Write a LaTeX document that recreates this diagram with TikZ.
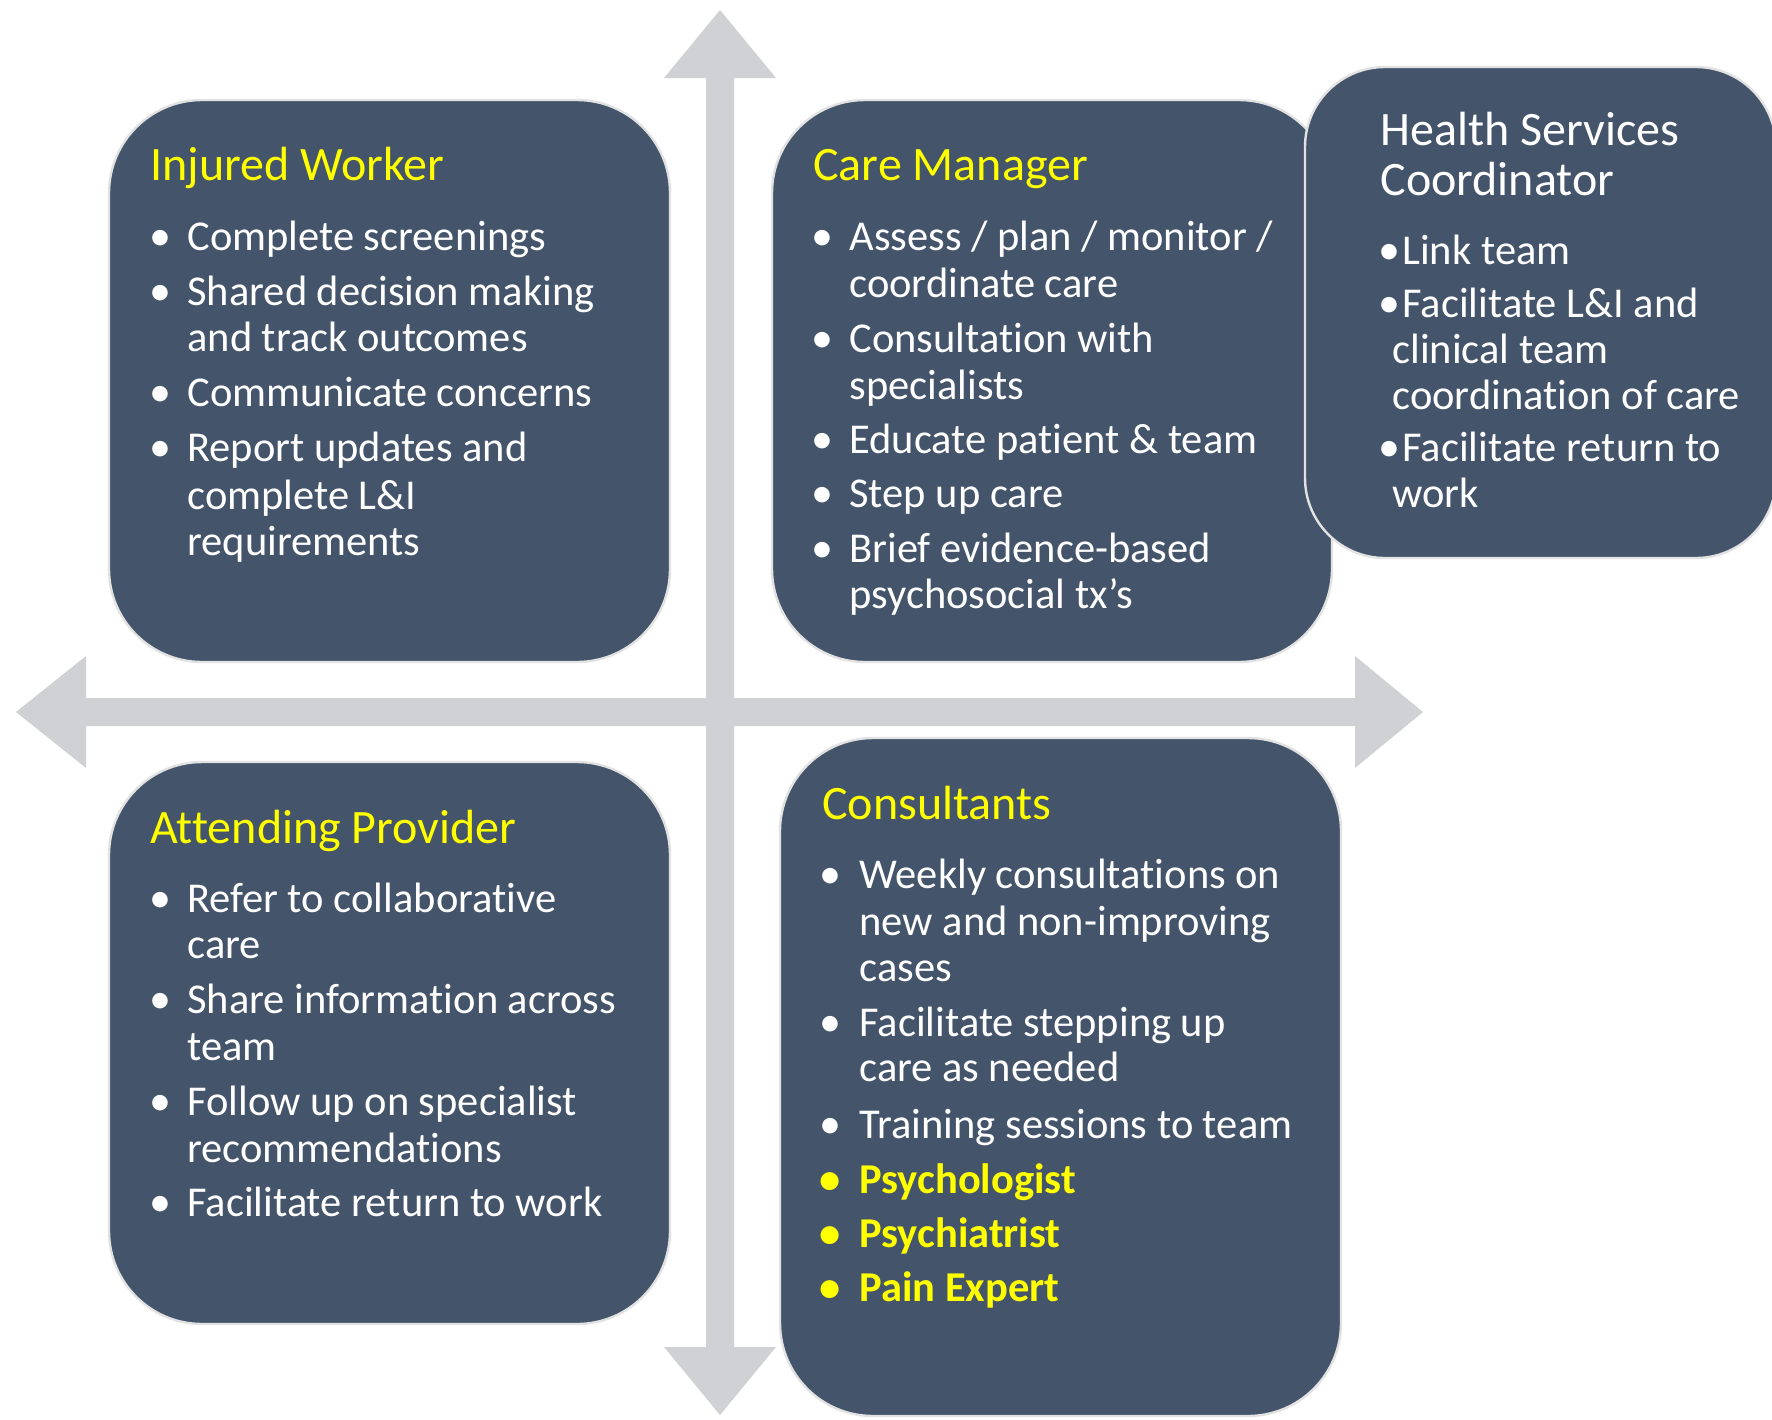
\documentclass[tikz,border=0pt]{standalone}
\usepackage{fontspec}
\setmainfont{Carlito}[Ligatures=NoCommon]
\usepackage{color}
\usepackage{tikz}
\definecolor{boxblue}{RGB}{68,84,106}
\definecolor{arrowgray}{RGB}{208,209,213}
\definecolor{rimgray}{RGB}{226,226,226}
\definecolor{titleyellow}{RGB}{255,255,0}

\begin{document}
\begin{tikzpicture}[x=0.5pt,y=-0.5pt,
	card/.style={fill=boxblue,draw=rimgray,line width=1.2pt,rounded corners=46.5pt},
	head/.style={anchor=base west,inner sep=0pt,text=titleyellow,font=\fontsize{24}{29}\selectfont},
	txt/.style={anchor=base west,inner sep=0pt,text=white,font=\fontsize{21.25}{25}\selectfont},
	dot/.style={anchor=base,inner sep=0pt,text=white,font=\fontsize{22}{25}\selectfont},
	hot/.style={text=titleyellow,font=\fontsize{21.25}{25}\selectfont\bfseries}]
		\clip (0,0) rectangle (1772,1419);
		\fill[arrowgray] (720,10) -- (776,78) -- (734,78) -- (734,698) -- (1355,698) -- (1355,656) -- (1423,712) -- (1355,768) -- (1355,726) -- (734,726) -- (734,1347) -- (776,1347) -- (720,1415) -- (664,1347) -- (706,1347) -- (706,726) -- (86,726) -- (86,768) -- (16,712) -- (86,656) -- (86,698) -- (706,698) -- (706,78) -- (664,78) -- cycle;
		\draw[card] (109,100) rectangle (670,662);
		\draw[card] (772,100) rectangle (1332,662);
		\draw[card,rounded corners=40pt] (1305,67) rectangle (1776,558);
		\draw[card] (109,762) rectangle (670,1324);
		\draw[card] (780,738) rectangle (1341,1416);
		\node [head] (iw) at (150,180) {Injured Worker};
		\node [dot] (iw-d1) at (160,250) {\textbullet};
		\node [dot] (iw-d2) at (160,305) {\textbullet};
		\node [dot] (iw-d3) at (160,406) {\textbullet};
		\node [dot] (iw-d4) at (160,461) {\textbullet};
		\node [txt] (iw-1) at (187,250) {Complete screenings};
		\node [txt] (iw-2) at (187,305) {Shared decision making};
		\node [txt] (iw-3) at (187,351) {and track outcomes};
		\node [txt] (iw-4) at (187,406) {Communicate concerns};
		\node [txt] (iw-5) at (187,461) {Report updates and};
		\node [txt] (iw-6) at (187,509) {complete L\&I};
		\node [txt] (iw-7) at (187,555) {requirements};
		\node [head] (cm) at (813,180) {Care Manager};
		\node [dot] (cm-d1) at (822,250) {\textbullet};
		\node [dot] (cm-d2) at (822,352) {\textbullet};
		\node [dot] (cm-d3) at (822,453) {\textbullet};
		\node [dot] (cm-d4) at (822,507) {\textbullet};
		\node [dot] (cm-d5) at (822,562) {\textbullet};
		\node [txt] (cm-1) at (849,250) {Assess / plan / monitor /};
		\node [txt] (cm-2) at (849,297) {coordinate care};
		\node [txt] (cm-3) at (849,352) {Consultation with};
		\node [txt] (cm-4) at (849,399) {specialists};
		\node [txt] (cm-5) at (849,453) {Educate patient \& team};
		\node [txt] (cm-6) at (849,507) {Step up care};
		\node [txt] (cm-7) at (849,562) {Brief evidence-based};
		\node [txt] (cm-8) at (849,608) {psychosocial tx’s};
		\node [head,text=white] (hs) at (1380,145) {Health Services};
		\node [head,text=white] (hs-b) at (1380,195) {Coordinator};
		\node [dot] (hs-d1) at (1389,264) {\textbullet};
		\node [dot] (hs-d2) at (1389,317) {\textbullet};
		\node [dot] (hs-d3) at (1389,461) {\textbullet};
		\node [txt] (hs-1) at (1402,264) {Link team};
		\node [txt] (hs-2) at (1402,317) {Facilitate L\&I and};
		\node [txt] (hs-3) at (1392,363) {clinical team};
		\node [txt] (hs-4) at (1392,409) {coordination of care};
		\node [txt] (hs-5) at (1402,461) {Facilitate return to};
		\node [txt] (hs-6) at (1392,507) {work};
		\node [head] (ap) at (150,843) {Attending Provider};
		\node [dot] (ap-d1) at (160,912) {\textbullet};
		\node [dot] (ap-d2) at (160,1013) {\textbullet};
		\node [dot] (ap-d3) at (160,1115) {\textbullet};
		\node [dot] (ap-d4) at (160,1216) {\textbullet};
		\node [txt] (ap-1) at (187,912) {Refer to collaborative};
		\node [txt] (ap-2) at (187,958) {care};
		\node [txt] (ap-3) at (187,1013) {Share information across};
		\node [txt] (ap-4) at (187,1060) {team};
		\node [txt] (ap-5) at (187,1115) {Follow up on specialist};
		\node [txt] (ap-6) at (187,1162) {recommendations};
		\node [txt] (ap-7) at (187,1216) {Facilitate return to work};
		\node [head] (co) at (822,819) {Consultants};
		\node [dot] (co-d1) at (830,888) {\textbullet};
		\node [dot] (co-d2) at (830,1036) {\textbullet};
		\node [dot] (co-d3) at (830,1138) {\textbullet};
		\node [dot,hot] (co-d4) at (830,1193) {\textbullet};
		\node [dot,hot] (co-d5) at (830,1247) {\textbullet};
		\node [dot,hot] (co-d6) at (830,1301) {\textbullet};
		\node [txt] (co-1) at (859,888) {Weekly consultations on};
		\node [txt] (co-2) at (859,935) {new and non-improving};
		\node [txt] (co-3) at (859,981) {cases};
		\node [txt] (co-4) at (859,1036) {Facilitate stepping up};
		\node [txt] (co-5) at (859,1081) {care as needed};
		\node [txt] (co-6) at (859,1138) {Training sessions to team};
		\node [txt,hot] (co-7) at (859,1193) {Psychologist};
		\node [txt,hot] (co-8) at (859,1247) {Psychiatrist};
		\node [txt,hot] (co-9) at (859,1301) {Pain Expert};
\end{tikzpicture}
\end{document}
